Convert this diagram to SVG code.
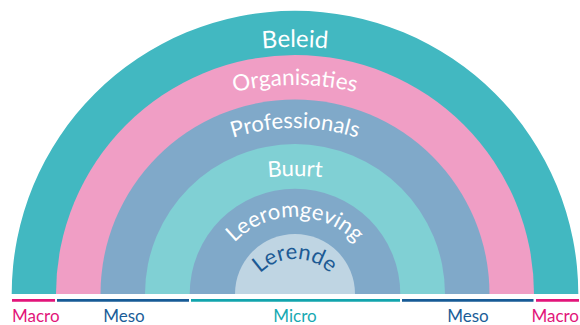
<svg xmlns="http://www.w3.org/2000/svg" width="580" height="325" viewBox="0 0 580 325">
  <style>
    .lbl { font-family: Lato, "Open Sans", "Liberation Sans", sans-serif; fill: #ffffff; text-anchor: middle; }
    .scale { font-family: Lato, "Open Sans", "Liberation Sans", sans-serif; font-size: 17px; }
    .macro { fill: #e2157a; }
    .meso { fill: #1b5d98; }
    .micro { fill: #17a9b2; }
  </style>
  <defs>
    <path id="pBeleid" d="M -55,397 A 350 350 0 0 1 645,397"/>
    <path id="pOrg" d="M 35,345 A 260 260 0 0 1 555,345"/>
    <path id="pProf" d="M 92,331 A 203 203 0 0 1 498,331"/>
    <path id="pBuurt" d="M -5,476 A 300 300 0 0 1 595,476"/>
    <path id="pLeer" d="M 211,301 A 84 84 0 0 1 379,301"/>
    <path id="pLer" d="M 245,309 A 50 50 0 0 1 345,309"/>
  </defs>

  <g id="beleid">
    <path d="M 11.7,294 A 283.3 283.3 0 0 1 578.3,294 Z" fill="#42b8c1"/>
  </g>
  <g id="organisaties">
    <path d="M 56,294 A 239 239 0 0 1 534,294 Z" fill="#f09ec5"/>
  </g>
  <g id="professionals">
    <path d="M 100.5,294 A 194.5 194.5 0 0 1 489.5,294 Z" fill="#80a9c9"/>
  </g>
  <g id="buurt">
    <path d="M 145,294 A 150 150 0 0 1 445,294 Z" fill="#80d0d4"/>
  </g>
  <g id="leeromgeving">
    <path d="M 189.7,294 A 105.3 105.3 0 0 1 400.3,294 Z" fill="#80a9c9"/>
  </g>
  <g id="lerende">
    <path d="M 235,294 A 60 60 0 0 1 355,294 Z" fill="#bfd5e3"/>
  </g>

  <g id="labels">
    <text class="lbl" font-size="24"><textPath href="#pBeleid" startOffset="50%">Beleid</textPath></text>
    <text class="lbl" font-size="22.5"><textPath href="#pOrg" startOffset="50%">Organisaties</textPath></text>
    <text class="lbl" font-size="22"><textPath href="#pProf" startOffset="50%">Professionals</textPath></text>
    <text class="lbl" font-size="22"><textPath href="#pBuurt" startOffset="50%">Buurt</textPath></text>
    <text class="lbl" font-size="22"><textPath href="#pLeer" startOffset="50%">Leeromgeving</textPath></text>
    <text class="lbl" font-size="22" style="fill:#1c5a94"><textPath href="#pLer" startOffset="50%">Lerende</textPath></text>
  </g>

  <g id="scale">
    <g stroke-width="2.7" fill="none">
      <line x1="12" y1="300.4" x2="55" y2="300.4" stroke="#e2157a"/>
      <line x1="57" y1="300.4" x2="189" y2="300.4" stroke="#175b96"/>
      <line x1="191" y1="300.4" x2="400" y2="300.4" stroke="#12a4ad"/>
      <line x1="402" y1="300.4" x2="533.5" y2="300.4" stroke="#175b96"/>
      <line x1="536" y1="300.4" x2="579" y2="300.4" stroke="#e2157a"/>
    </g>
    <text class="scale macro" x="12" y="321.5">Macro</text>
    <text class="scale meso" x="124" y="321.5" text-anchor="middle">Meso</text>
    <text class="scale micro" x="295" y="321.5" text-anchor="middle">Micro</text>
    <text class="scale meso" x="468" y="321.5" text-anchor="middle">Meso</text>
    <text class="scale macro" x="579" y="321.5" text-anchor="end">Macro</text>
  </g>
</svg>
